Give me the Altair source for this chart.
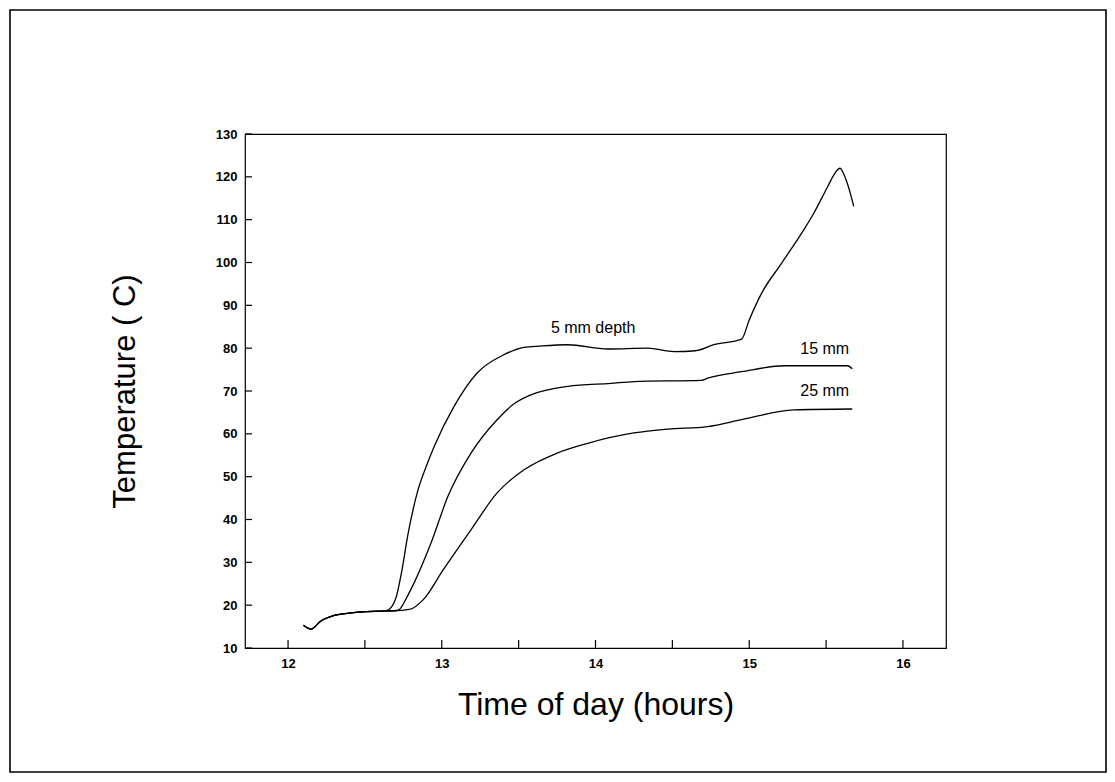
import altair as alt
import pandas as pd

# ---- data ----
hours_5mm = [12.10, 12.15, 12.21, 12.30, 12.41, 12.51, 12.60, 12.645, 12.70, 12.74, 12.78,
             12.84, 12.90, 12.95, 13.08, 13.23, 13.40, 13.535, 13.64, 13.82, 14.08, 14.34, 14.51,
             14.65, 14.77, 14.95, 15.00, 15.08, 15.21, 15.34, 15.42, 15.51, 15.56, 15.59,
             15.63, 15.68]
temp_5mm = [15.3, 14.4, 16.2, 17.6, 18.2, 18.5, 18.6, 18.8, 21.5, 28.0, 36.5,
            46.2, 52.5, 57.0, 66.4, 74.2, 78.4, 80.2, 80.5, 80.8, 79.8, 80.0, 79.2,
            79.4, 80.8, 82.1, 86.6, 92.8, 99.8, 106.8, 111.5, 117.7, 121.0, 122.0,
            119.3, 113.1]

hours_15mm = [12.10, 12.15, 12.21, 12.30, 12.41, 12.51, 12.60, 12.645, 12.69, 12.72, 12.775,
              12.82, 12.93, 13.04, 13.19, 13.36, 13.47, 13.58, 13.82, 14.10, 14.25, 14.69,
              14.73, 14.95, 15.23, 15.64, 15.67]
temp_15mm = [15.3, 14.4, 16.2, 17.6, 18.2, 18.5, 18.6, 18.7, 18.7, 18.9, 22.0,
             25.2, 34.5, 45.4, 55.5, 63.3, 67.0, 69.1, 71.1, 71.8, 72.2, 72.5,
             73.0, 74.5, 75.9, 75.9, 75.2]

hours_25mm = [12.10, 12.15, 12.21, 12.30, 12.41, 12.51, 12.60, 12.70, 12.79, 12.88, 13.01,
              13.19, 13.36, 13.535, 13.75, 13.95, 14.25, 14.47, 14.73, 14.95, 15.29, 15.67]
temp_25mm = [15.3, 14.4, 16.2, 17.6, 18.2, 18.5, 18.6, 18.7, 19.0, 21.3, 28.3,
             37.6, 46.2, 51.6, 55.5, 57.8, 60.2, 61.1, 61.7, 63.3, 65.6, 65.8]

x_labels = [12, 13, 14, 15, 16]
x_ticks = [12, 12.5, 13, 13.5, 14, 14.5, 15, 15.5, 16]
y_ticks = [10, 20, 30, 40, 50, 60, 70, 80, 90, 100, 110, 120, 130]

left_labels = ["5 mm depth"]
left_label_hours = [13.71]
left_label_temps = [84.7]
right_labels = ["15 mm", "25 mm"]
right_label_hours = [15.65, 15.65]
right_label_temps = [79.8, 69.9]

# ---- build tables ----
rows = []
for name, hs, ts in [("5 mm", hours_5mm, temp_5mm),
                     ("15 mm", hours_15mm, temp_15mm),
                     ("25 mm", hours_25mm, temp_25mm)]:
    for h, t in zip(hs, ts):
        rows.append({"series": name, "hour": h, "temp": t})
lines_df = pd.DataFrame(rows)

xdom = [11.72, 16.28]
ydom = [10, 130]
FONT = "Liberation Sans"

xscale = alt.Scale(domain=xdom, nice=False, zero=False)
yscale = alt.Scale(domain=ydom, nice=False, zero=False)

base_x_axis = alt.Axis(values=x_labels, format="d", tickSize=0, domain=False, grid=False,
                       labelFont=FONT, labelFontWeight="bold", labelFontSize=13,
                       labelColor="black", labelPadding=9,
                       title="Time of day (hours)", titleFont=FONT, titleFontSize=32,
                       titleFontWeight="normal", titleColor="black", titlePadding=19)
base_y_axis = alt.Axis(values=y_ticks, format="d", tickSize=0, domain=False, grid=False,
                       labelFont=FONT, labelFontWeight="bold", labelFontSize=13,
                       labelColor="black", labelPadding=8,
                       title="Temperature ( C)", titleFont=FONT, titleFontSize=31,
                       titleFontWeight="normal", titleColor="black", titlePadding=74)

lines = alt.Chart(lines_df).mark_line(color="black", strokeWidth=1.3, interpolate="monotone").encode(
    x=alt.X("hour:Q", scale=xscale, axis=base_x_axis),
    y=alt.Y("temp:Q", scale=yscale, axis=base_y_axis),
    detail="series:N",
)

xt = alt.Chart(pd.DataFrame({"h": x_ticks})).mark_rule(color="black", strokeWidth=1.2).encode(
    x=alt.X("h:Q", scale=xscale),
    y=alt.value(514), y2=alt.value(506),
)
yt = alt.Chart(pd.DataFrame({"t": y_ticks})).mark_rule(color="black", strokeWidth=1.2).encode(
    y=alt.Y("t:Q", scale=yscale),
    x=alt.value(0), x2=alt.value(7),
)

lab_left = alt.Chart(pd.DataFrame({"label": left_labels, "h": left_label_hours, "t": left_label_temps})).mark_text(
    align="left", baseline="middle", font=FONT, fontSize=16, color="black").encode(
    x=alt.X("h:Q", scale=xscale), y=alt.Y("t:Q", scale=yscale), text="label:N")
lab_right = alt.Chart(pd.DataFrame({"label": right_labels, "h": right_label_hours, "t": right_label_temps})).mark_text(
    align="right", baseline="middle", font=FONT, fontSize=16, color="black").encode(
    x=alt.X("h:Q", scale=xscale), y=alt.Y("t:Q", scale=yscale), text="label:N")

frame = alt.Chart(pd.DataFrame({"a": [0]})).mark_rect(filled=False, stroke="black", strokeWidth=1.6).encode(
    x=alt.value(-235), x2=alt.value(861), y=alt.value(-124), y2=alt.value(638))

chart = alt.layer(frame, lines, xt, yt, lab_left, lab_right).properties(
    width=701, height=514,
    autosize=alt.AutoSizeParams(type="none"),
    padding={"left": 237, "top": 126, "right": 161, "bottom": 126},
    background="white",
).configure_view(stroke="black", strokeWidth=1.2)

chart.save("out.html", embed_options={"renderer": "svg", "actions": False})
